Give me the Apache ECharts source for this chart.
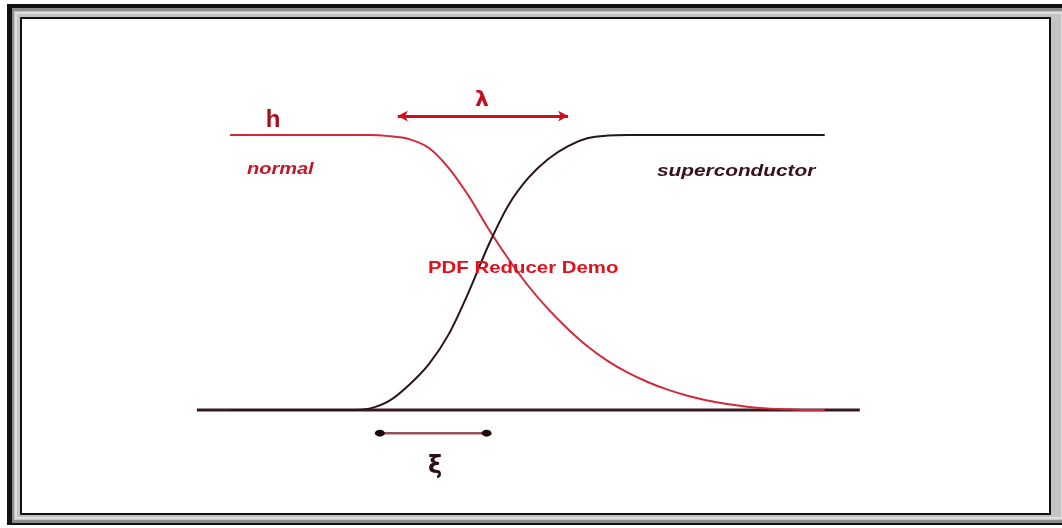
<!DOCTYPE html>
<html>
<head>
<meta charset="utf-8">
<script src="https://cdn.jsdelivr.net/npm/echarts@6/dist/echarts.min.js"></script>
<style>
html,body{margin:0;padding:0;background:#fff;}
#main{width:1062px;height:528px;}
</style>
</head>
<body>
<div id="main"></div>
<script>
/* 位置 x (0..100 = 基线), h 归一化 */
var posX = [5, 8, 11, 14, 17, 20, 23, 26, 29, 32, 35, 38, 41, 44, 47, 50, 53, 56, 59, 62, 65, 68, 71, 74, 77, 80, 83, 86, 89, 92, 94.7];
var normalH = [1, 1, 1, 1, 1, 1, 1, 1, 0.996, 0.985, 0.953, 0.88, 0.778, 0.658, 0.549, 0.451, 0.367, 0.294, 0.23, 0.178, 0.136, 0.102, 0.074, 0.052, 0.035, 0.022, 0.012, 0.006, 0.003, 0, 0];
var superH = [0, 0, 0, 0, 0, 0, 0, 0.005, 0.033, 0.091, 0.167, 0.276, 0.429, 0.60, 0.745, 0.844, 0.913, 0.96, 0.989, 0.998, 1, 1, 1, 1, 1, 1, 1, 1, 1, 1, 1];

var baseX = [0, 100];
var lambdaSpan = [30.3, 56.0];
var lambdaLevel = 1.069;
var xiSpan = [27.6, 43.7];
var xiLevel = -0.084;

function pairs(xs, ys) {
    var out = [];
    for (var i = 0; i < xs.length; i++) out.push([xs[i], ys[i]]);
    return out;
}

var myChart = echarts.init(document.getElementById('main'));

var option = {
    backgroundColor: '#ffffff',
    animation: false,
    grid: {left: 0, right: 0, top: 0, bottom: 0},
    xAxis: {type: 'value', min: -29.7, max: 130.5, show: false},
    yAxis: {type: 'value', min: -0.429, max: 1.491, show: false},
    graphic: [
        // 外框
        {type: 'rect', z: -10, shape: {x: 7, y: 4, width: 1060, height: 521}, style: {fill: '#111'}},
        {type: 'rect', z: -9, shape: {x: 12, y: 8, width: 1055, height: 515}, style: {fill: '#8c8c8c'}},
        {type: 'rect', z: -8, shape: {x: 14, y: 11, width: 1050, height: 509}, style: {fill: '#c4c4c4'}},
        {type: 'rect', z: -8, shape: {x: 16, y: 13, width: 1046, height: 505}, style: {fill: 'none', stroke: '#e6e6e6', lineWidth: 1.5}},
        {type: 'rect', z: -7, shape: {x: 21, y: 18, width: 1029, height: 496}, style: {fill: '#fff', stroke: '#111', lineWidth: 2}},
        // 文字
        {type: 'text', x: 273, y: 120, z: 10, style: {text: 'h', fill: '#a3101e', font: 'bold 24px "Liberation Sans", Arial', textAlign: 'center', textVerticalAlign: 'middle'}},
        {type: 'text', x: 482, y: 100, z: 10, style: {text: 'λ', fill: '#c0101e', font: 'bold 22px "DejaVu Sans", Arial', textAlign: 'center', textVerticalAlign: 'middle'}},
        {type: 'text', x: 247, y: 170, z: 10, scaleX: 1.25, style: {text: 'normal', fill: '#c4162a', font: 'italic bold 16px "Liberation Sans", Arial', textAlign: 'left', textVerticalAlign: 'middle'}},
        {type: 'text', x: 657, y: 172, z: 10, scaleX: 1.3, style: {text: 'superconductor', fill: '#3a1020', font: 'italic bold 16px "Liberation Sans", Arial', textAlign: 'left', textVerticalAlign: 'middle'}},
        {type: 'text', x: 428, y: 268, z: 10, scaleX: 1.2, style: {text: 'PDF Reducer Demo', fill: '#e0101c', font: 'bold 17px "Liberation Sans", Arial', textAlign: 'left', textVerticalAlign: 'middle'}},
        {type: 'text', x: 435, y: 467, z: 10, style: {text: 'ξ', fill: '#2a1014', font: 'bold 24px "DejaVu Sans", sans-serif', textAlign: 'center', textVerticalAlign: 'middle'}}
    ],
    series: [
        {
            name: 'baseline', type: 'line', showSymbol: false, z: 2,
            data: pairs(baseX, [0, 0]),
            lineStyle: {color: '#3a1820', width: 3}
        },
        {
            name: 'normal', type: 'line', smooth: 0.3, showSymbol: false, z: 3,
            data: pairs(posX, normalH),
            lineStyle: {color: '#d02a3c', width: 2}
        },
        {
            name: 'superconductor', type: 'line', smooth: 0.3, showSymbol: false, z: 3,
            data: pairs(posX, superH),
            lineStyle: {color: '#2a1418', width: 2}
        },
        {
            name: 'lambda', type: 'line', showSymbol: false, data: [], z: 4,
            markLine: {
                silent: true, symbol: ['arrow', 'arrow'], symbolSize: [8, 10],
                label: {show: false},
                lineStyle: {color: '#d0101e', width: 3, type: 'solid'},
                data: [[{coord: [lambdaSpan[0], lambdaLevel]}, {coord: [lambdaSpan[1], lambdaLevel]}]]
            }
        },
        {
            name: 'xi', type: 'line', showSymbol: false, z: 4,
            data: pairs(xiSpan, [xiLevel, xiLevel]),
            lineStyle: {color: '#9a5058', width: 2.5}
        },
        {
            name: 'xiEnds', type: 'scatter', z: 5, symbol: 'circle', symbolSize: [10, 7],
            data: pairs(xiSpan, [xiLevel, xiLevel]),
            itemStyle: {color: '#1a0a0c', opacity: 1}
        }
    ]
};

myChart.setOption(option);
</script>
</body>
</html>
